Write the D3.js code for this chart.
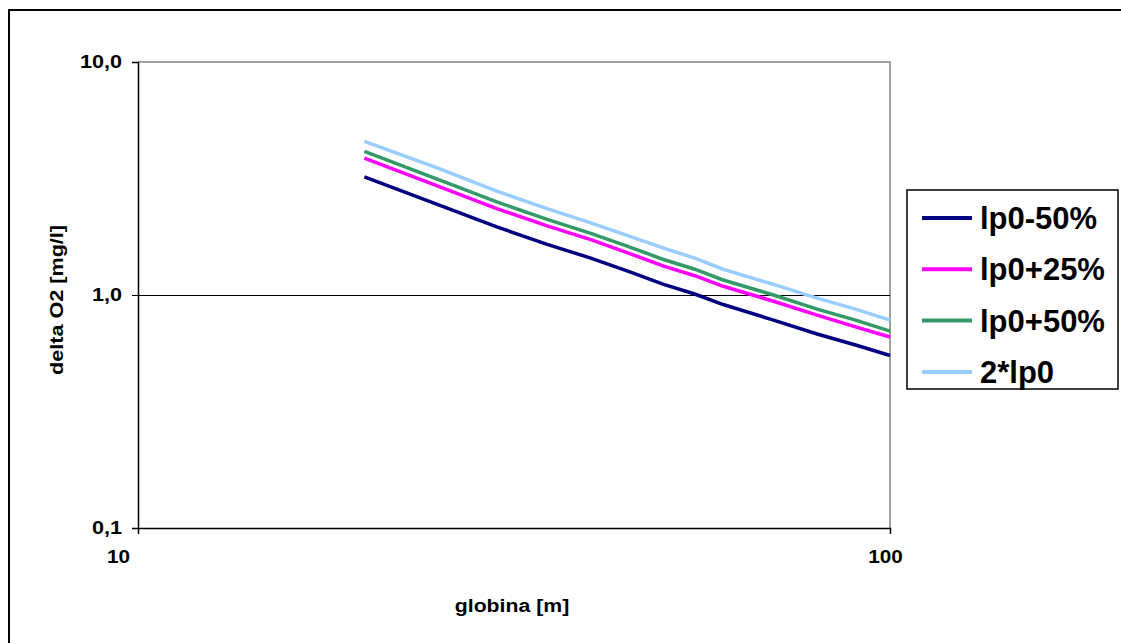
<!DOCTYPE html>
<html>
<head>
<meta charset="utf-8">
<script src="https://cdn.jsdelivr.net/npm/d3@7"></script>
<style>
body { margin: 0; background: #fff; }
text { font-family: "Liberation Sans", Arial, sans-serif; font-weight: bold; }
</style>
</head>
<body>
<script>
// depth [m]
var depths = [20, 25, 30, 35, 40, 45, 50, 55, 60, 70, 80, 90, 100];
// delta O2 [mg/l] per series
var lp0m50 = [3.21, 2.45, 1.96, 1.65, 1.44, 1.26, 1.11, 1.01, 0.91, 0.78, 0.68, 0.61, 0.55];
var lp0p25 = [3.87, 2.94, 2.35, 1.98, 1.73, 1.51, 1.33, 1.21, 1.09, 0.94, 0.82, 0.73, 0.66];
var lp0p50 = [4.13, 3.14, 2.51, 2.11, 1.84, 1.61, 1.42, 1.29, 1.16, 1.00, 0.87, 0.78, 0.70];
var lp0x2  = [4.56, 3.51, 2.79, 2.35, 2.04, 1.79, 1.59, 1.44, 1.29, 1.11, 0.97, 0.87, 0.78];
var seriesNames = ["lp0-50%", "lp0+25%", "lp0+50%", "2*lp0"];
var seriesColors = ["#000080", "#ff00ff", "#339966", "#99ccff"];
var xTicks = [10, 100];
var yTicks = [0.1, 1, 10];

var series = [lp0m50, lp0p25, lp0p50, lp0x2];

var w = 1121, h = 643;
var plotLeft = 138, plotRight = 890, plotTop = 62, plotBottom = 528;

var svg = d3.select("body").append("svg")
    .attr("width", w)
    .attr("height", h);

//widen text a bit, the original font runs wider than Liberation
function stretch(sel, f) {
    sel.each(function() {
        var len = this.getComputedTextLength();
        d3.select(this).attr("textLength", len * f).attr("lengthAdjust", "spacingAndGlyphs");
    });
}

//outer chart border
svg.append("rect")
    .attr("x", 9).attr("y", 10)
    .attr("width", 1200).attr("height", 700)
    .attr("fill", "none")
    .attr("stroke", "#000")
    .attr("stroke-width", 2);

var x = d3.scaleLog().domain([10, 100]).range([plotLeft, plotRight]);
var y = d3.scaleLog().domain([0.1, 10]).range([plotBottom, plotTop]);

//plot area border (top/right gray)
svg.append("path")
    .attr("d", "M" + plotLeft + "," + y(10) + "H" + x(100) + "V" + y(0.1))
    .attr("fill", "none")
    .attr("stroke", "#a0a0a0")
    .attr("stroke-width", 2);

//gridline at 1
svg.append("line")
    .attr("x1", plotLeft).attr("x2", plotRight)
    .attr("y1", Math.round(y(1)) + 0.5).attr("y2", Math.round(y(1)) + 0.5)
    .attr("stroke", "#000")
    .attr("stroke-width", 1)
    .attr("shape-rendering", "crispEdges");

//y axis
var yAxis = svg.append("g")
    .attr("transform", "translate(" + plotLeft + ",0)")
    .call(d3.axisLeft(y).tickValues(yTicks).tickSize(6).tickPadding(10)
        .tickFormat(function(d) { return d3.format(".1f")(d).replace(".", ","); }));
yAxis.select(".domain").attr("stroke-width", 1.5);
yAxis.selectAll("text").attr("font-size", 18).attr("fill", "#000").call(stretch, 1.2);

//x axis
var xAxis = svg.append("g")
    .attr("transform", "translate(0," + plotBottom + ")")
    .call(d3.axisBottom(x).tickValues(xTicks).tickSize(6).tickPadding(16)
        .tickFormat(d3.format("d")));
xAxis.select(".domain").attr("stroke-width", 1.5);
xAxis.selectAll("text").attr("font-size", 18).attr("fill", "#000")
    .attr("dx", function(d) { return d === 10 ? -20 : -5; })
    .call(stretch, 1.15);

//axis titles
svg.append("text")
    .attr("x", 512).attr("y", 612)
    .attr("text-anchor", "middle")
    .attr("font-size", 18)
    .text("globina [m]")
    .call(stretch, 1.18);

svg.append("text")
    .attr("transform", "translate(63,300) rotate(-90)")
    .attr("text-anchor", "middle")
    .attr("font-size", 18)
    .text("delta O2 [mg/l]")
    .call(stretch, 1.2);

//lines
var line = d3.line()
    .x(function(d, i) { return x(depths[i]); })
    .y(function(d) { return y(d); });

svg.selectAll("path.series")
    .data(series)
    .enter()
    .append("path")
    .attr("class", "series")
    .attr("fill", "none")
    .attr("stroke", function(d, i) { return seriesColors[i]; })
    .attr("stroke-width", 3.5)
    .attr("d", line);

//legend
var lg = svg.append("g").attr("transform", "translate(907,190)");
lg.append("rect")
    .attr("width", 211).attr("height", 199)
    .attr("fill", "#fff")
    .attr("stroke", "#000")
    .attr("stroke-width", 1.5);

var items = lg.selectAll("g.item")
    .data(seriesNames)
    .enter()
    .append("g")
    .attr("class", "item")
    .attr("transform", function(d, i) { return "translate(0," + (28 + i * 51.3) + ")"; });

items.append("line")
    .attr("x1", 15).attr("x2", 65)
    .attr("stroke", function(d, i) { return seriesColors[i]; })
    .attr("stroke-width", 4);

items.append("text")
    .attr("x", 73)
    .attr("dy", "0.36em")
    .attr("font-size", 31)
    .text(function(d) { return d; });
</script>
</body>
</html>
